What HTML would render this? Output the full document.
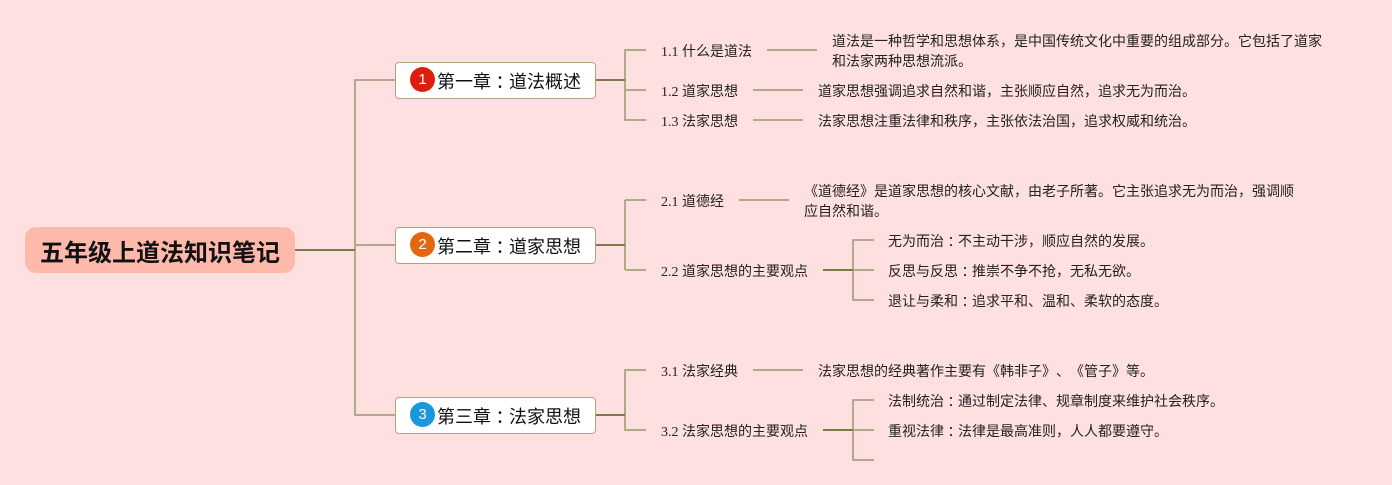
<!DOCTYPE html>
<html lang="zh"><head><meta charset="utf-8">
<style>
html,body{margin:0;padding:0;background:#ffe0e0}
#c{position:relative;width:1392px;height:485px;overflow:hidden;background:#ffe0e0;font-family:"Liberation Serif","Noto Sans CJK SC",serif;color:#222;text-spacing-trim:space-all;font-kerning:none}
#c svg{position:absolute;left:0;top:0}
.t{position:absolute;white-space:nowrap;font-size:14px;line-height:20px;font-family:"Liberation Serif","Noto Sans CJK SC",serif}
.h{position:absolute;white-space:nowrap;font-size:18px;line-height:24px;color:#111;font-family:"Liberation Sans","Noto Sans CJK SC",sans-serif}
.root{position:absolute;left:25px;top:227px;width:270px;height:46px;border-radius:11px;background:#ffb9ab;color:#111;font:bold 24px/54px "Liberation Sans","Noto Sans CJK SC",sans-serif;text-align:center}
.box{position:absolute;left:394.5px;width:201.5px;height:36.5px;background:#fff;border:1.5px solid #aca583;border-radius:4px;box-sizing:border-box}
.i{position:absolute;left:410px;width:25px;height:25px;border-radius:50%;color:#fff;font:15px/26px "Liberation Sans",sans-serif;text-align:center}
.k{font-family:"Noto Sans CJK TC",sans-serif;line-height:0;position:relative;top:1px}
</style></head><body><div id="c">
<svg width="1392" height="485" fill="none">
<g stroke="#b0a98a" stroke-width="2" stroke-linejoin="round">
<path d="M395 80H355V415H395M355 245H395"/>
<path d="M646 50H625V120H646M625 90H646"/>
<path d="M625 200V270M646 200H625M646 270H625"/>
<path d="M646 370H625V430H646"/>
<path d="M767 50H817M753 90H803M753 120H803M739 200H789M753 370H803"/>
<path d="M874 240H853V300H874M853 270H874"/>
<path d="M874 400H853V460H874M853 430H874"/>
</g>
<g stroke="#7c7a4d" stroke-width="2">
<path d="M295 250H355M596 80H625M596 245H625M596 415H625M823 270H853M823 430H853"/>
</g>
</svg>
<div class="root">五年级上道法知识笔记</div>
<div class="box" style="top:62px"></div>
<div class="box" style="top:227px"></div>
<div class="box" style="top:397px"></div>
<div class="i" style="top:67px;background:#dc1f0a">1</div>
<div class="i" style="top:232px;background:#e4660f">2</div>
<div class="i" style="top:402px;background:#1a97dd">3</div>
<div class="h" style="left:437px;top:70px">第一章<span class="k" lang="zh-TW">：</span>道法概述</div>
<div class="h" style="left:437px;top:235px">第二章<span class="k" lang="zh-TW">：</span>道家思想</div>
<div class="h" style="left:437px;top:405px">第三章<span class="k" lang="zh-TW">：</span>法家思想</div>
<div class="t" style="left:661px;top:43px">1.1 什么是道法</div>
<div class="t" style="left:661px;top:83px">1.2 道家思想</div>
<div class="t" style="left:661px;top:113px">1.3 法家思想</div>
<div class="t" style="left:832px;top:33px">道法是一种哲学和思想体系，是中国传统文化中重要的组成部分。它包括了道家</div>
<div class="t" style="left:832px;top:53px">和法家两种思想流派。</div>
<div class="t" style="left:818px;top:83px">道家思想强调追求自然和谐，主张顺应自然，追求无为而治。</div>
<div class="t" style="left:818px;top:113px">法家思想注重法律和秩序，主张依法治国，追求权威和统治。</div>
<div class="t" style="left:661px;top:193px">2.1 道德经</div>
<div class="t" style="left:661px;top:263px">2.2 道家思想的主要观点</div>
<div class="t" style="left:804px;top:183px">《道德经》是道家思想的核心文献，由老子所著。它主张追求无为而治，强调顺</div>
<div class="t" style="left:804px;top:203px">应自然和谐。</div>
<div class="t" style="left:888px;top:233px">无为而治<span class="k" lang="zh-TW">：</span>不主动干涉，顺应自然的发展。</div>
<div class="t" style="left:888px;top:263px">反思与反思<span class="k" lang="zh-TW">：</span>推崇不争不抢，无私无欲。</div>
<div class="t" style="left:888px;top:293px">退让与柔和<span class="k" lang="zh-TW">：</span>追求平和、温和、柔软的态度。</div>
<div class="t" style="left:661px;top:363px">3.1 法家经典</div>
<div class="t" style="left:661px;top:423px">3.2 法家思想的主要观点</div>
<div class="t" style="left:818px;top:363px">法家思想的经典著作主要有《韩非子》、《管子》等。</div>
<div class="t" style="left:888px;top:393px">法制统治<span class="k" lang="zh-TW">：</span>通过制定法律、规章制度来维护社会秩序。</div>
<div class="t" style="left:888px;top:423px">重视法律<span class="k" lang="zh-TW">：</span>法律是最高准则，人人都要遵守。</div>
</div></body></html>
